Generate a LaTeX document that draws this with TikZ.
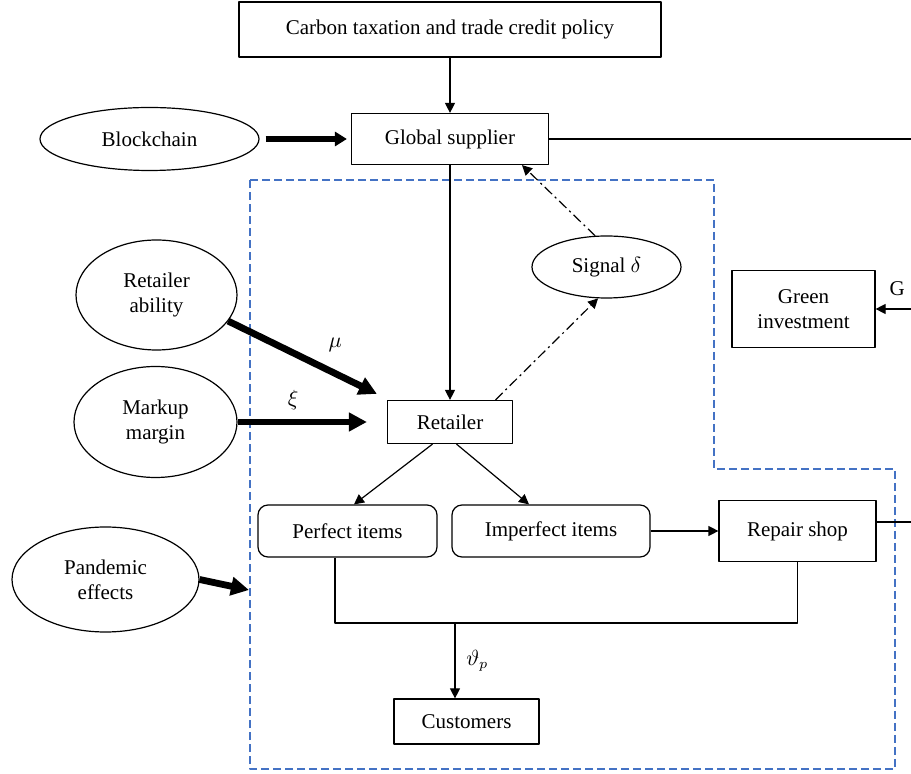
\documentclass[tikz,border=0pt]{standalone}
\usepackage{fontspec}
\setmainfont{Liberation Serif}
\usetikzlibrary{shapes.geometric,arrows.meta}

\begin{document}
\begin{tikzpicture}[x=0.5pt, y=-0.5pt, font=\fontsize{10.5}{12.5}\selectfont, line width=0.6pt, line join=round,
	>={Triangle[length=5pt,width=5pt]},
	box/.style={draw, inner sep=0pt, align=center},
	oval/.style={draw, ellipse, inner sep=0pt, align=center},
	item/.style={box, rounded corners=5pt},
	flow/.style={->},
	heavy/.style={line width=3.4pt, -{Triangle[length=9pt,width=9pt]}},
	sig/.style={->, dash pattern=on 5pt off 2pt on 1pt off 2pt},
	region/.style={draw={rgb,255:red,68;green,114;blue,196}, line width=0.7pt, dash pattern=on 4pt off 2pt}]
	\useasboundingbox (0,0) rectangle (911,774);
	\path
	(911,139) coordinate (Sx)
	(911,309) coordinate (Gx)
	(911,522) coordinate (Rx)
	(455,623) coordinate (J)
	(249,590) coordinate (P)
	;
	% boundary of the retailer side
	\draw[region] (250,180) -- (714,180) -- (714,469) -- (895,469) -- (895,769) -- (250,769) -- cycle;
	
	\node[box, minimum width=211pt, minimum height=27.5pt] (policy) at (450,29.5) {Carbon taxation and trade credit policy};
	\node[box, minimum width=98.5pt, minimum height=25.5pt] (supplier) at (450,139) {Global supplier};
	\node[oval, minimum width=109.5pt, minimum height=31.5pt] (chain) at (149.5,139) {Blockchain};
	\node[oval, minimum width=74.5pt, minimum height=31pt] (signal) at (606.5,267) {Signal $\delta$};
	\node[box, minimum width=62.5pt, minimum height=21.5pt] (retailer) at (450,422) {Retailer};
	\node[oval, minimum width=80.5pt, minimum height=55pt] (ability) at (156.5,295) {Retailer\\ability};
	\node[oval, minimum width=81.5pt, minimum height=55.5pt] (markup) at (155.5,422) {Markup\\margin};
	\node[oval, minimum width=93.5pt, minimum height=52.5pt] (pandemic) at (105.5,579.5) {Pandemic\\effects};
	\node[box, minimum width=71.5pt, minimum height=38.5pt] (green) at (803.5,309) {Green\\investment};
	\node[item, minimum width=89.5pt, minimum height=26pt] (perfect) at (347.5,531) {Perfect items};
	\node[item, minimum width=99pt, minimum height=26pt] (imperfect) at (551,531) {Imperfect items};
	\node[box, minimum width=78.5pt, minimum height=30.5pt] (repair) at (797.5,531) {Repair shop};
	\node[box, minimum width=72.5pt, minimum height=22.5pt] (customers) at (466.5,721.5) {Customers};
	
	\draw[flow] (policy) -- (supplier);
	\draw[heavy, -{Triangle[length=6pt,width=7pt]}] ([xshift=3pt]chain.east) -- ([xshift=-2pt]supplier.west);
	\draw (supplier.east) -- (supplier.east -| Sx);
	\draw[flow] (supplier) -- (retailer);
	\draw[sig] ([xshift=22.75pt]retailer.north) -- (signal.255);
	\draw[sig] (signal.110) -- ([xshift=36pt]supplier.south);
	
	\draw[heavy] (ability.340) -- ([shift={(-5pt,3pt)}]retailer.north west) node[pos=0.72, above=6pt] {$\mu$};
	\draw[heavy] (markup.east) -- ([xshift=-10pt]retailer.west) node[pos=0.43, above=1pt] {$\xi$};
	\draw[heavy] (pandemic.east) -- (P);
	
	\draw[flow] (Gx) -- (green.east) node[pos=0.39, above=3pt] {G};
	
	\draw[flow] ([xshift=-8.75pt]retailer.south) -- ([xshift=3.25pt]perfect.north);
	\draw[flow] ([xshift=3.25pt]retailer.south) -- ([xshift=-11pt]imperfect.north);
	\draw[flow] (imperfect) -- (repair);
	\draw (repair.east |- Rx) -- (Rx);
	
	\draw ([xshift=-6.25pt]perfect.south) |- (J) -| (repair.south);
	\draw[flow] (J) -- (J |- customers.north) node[midway, right=2pt] {$\vartheta_p$};
\end{tikzpicture}
\end{document}
